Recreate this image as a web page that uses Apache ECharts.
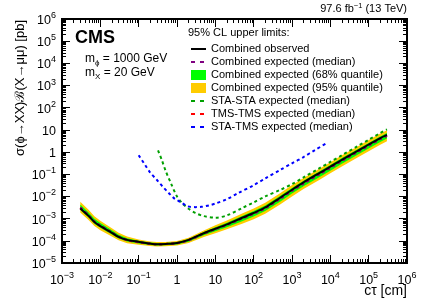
<!DOCTYPE html>
<html>
<head>
<meta charset="utf-8">
<script src="https://cdn.jsdelivr.net/npm/echarts@6/dist/echarts.min.js"></script>
<style>html,body{margin:0;padding:0;background:#fff;}#c{width:424px;height:304px;}</style>
</head>
<body>
<div id="c"></div>
<script>
// ---- data ----
const ctComb = [3e-3, 5e-3, 7e-3, 1e-2, 2e-2, 3e-2, 5e-2, 0.1, 0.2, 0.3, 0.5, 1, 2, 5, 10, 20, 50, 100, 200, 500, 1e3, 2e3, 5e3, 1e4, 2e4, 5e4, 1e5, 2e5, 3e5];
const observed = [2.9e-3, 1.3e-3, 7e-4, 4.6e-4, 2.3e-4, 1.5e-4, 1.1e-4, 9e-5, 7.5e-5, 7e-5, 7.2e-5, 8e-5, 1.1e-4, 2.2e-4, 3.5e-4, 5.5e-4, 1.1e-3, 1.8e-3, 3.2e-3, 9e-3, 2e-2, 4.3e-2, 1.1e-1, 2.2e-1, 4.5e-1, 1.1, 2.2, 4.3, 6];
const expMedian = [3.2e-3, 1.4e-3, 7.5e-4, 4.9e-4, 2.4e-4, 1.55e-4, 1.1e-4, 8.8e-5, 7.4e-5, 7e-5, 7.1e-5, 7.8e-5, 1.05e-4, 2.1e-4, 3.3e-4, 5.2e-4, 1.0e-3, 1.65e-3, 2.9e-3, 8e-3, 1.8e-2, 3.8e-2, 9.6e-2, 1.95e-1, 4e-1, 9.8e-1, 1.95, 3.8, 5.4];
const exp68Hi = [4.3e-3, 1.85e-3, 9.8e-4, 6.3e-4, 3.0e-4, 1.9e-4, 1.32e-4, 1.02e-4, 8.4e-5, 7.9e-5, 8.0e-5, 8.8e-5, 1.2e-4, 2.5e-4, 4.05e-4, 6.6e-4, 1.3e-3, 2.2e-3, 3.9e-3, 1.08e-2, 2.4e-2, 5.1e-2, 1.29e-1, 2.6e-1, 5.4e-1, 1.32, 2.6, 5.1, 7.3];
const exp68Lo = [2.5e-3, 1.1e-3, 5.9e-4, 3.9e-4, 1.95e-4, 1.27e-4, 9.2e-5, 7.6e-5, 6.5e-5, 6.2e-5, 6.3e-5, 6.9e-5, 9.1e-5, 1.77e-4, 2.7e-4, 4.1e-4, 7.7e-4, 1.25e-3, 2.2e-3, 6.0e-3, 1.35e-2, 2.85e-2, 7.2e-2, 1.46e-1, 3.0e-1, 7.3e-1, 1.46, 2.85, 4.05];
const exp95Hi = [5.8e-3, 2.45e-3, 1.28e-3, 8.1e-4, 3.7e-4, 2.3e-4, 1.55e-4, 1.15e-4, 9.3e-5, 8.8e-5, 8.9e-5, 9.8e-5, 1.37e-4, 2.95e-4, 5.0e-4, 8.3e-4, 1.7e-3, 2.9e-3, 5.2e-3, 1.45e-2, 3.25e-2, 6.8e-2, 1.73e-1, 3.5e-1, 7.2e-1, 1.76, 3.5, 6.8, 9.7];
const exp95Lo = [1.9e-3, 8.5e-4, 4.6e-4, 3.0e-4, 1.55e-4, 1.05e-4, 7.8e-5, 6.7e-5, 5.9e-5, 5.6e-5, 5.7e-5, 6.2e-5, 8.0e-5, 1.5e-4, 2.2e-4, 3.3e-4, 5.9e-4, 9.5e-4, 1.65e-3, 4.5e-3, 1.0e-2, 2.15e-2, 5.4e-2, 1.1e-1, 2.25e-1, 5.5e-1, 1.1, 2.15, 3.05];
const tmsTms = [3.1e-3, 1.35e-3, 7.2e-4, 4.7e-4, 2.3e-4, 1.5e-4, 1.07e-4, 8.6e-5, 7.3e-5, 7e-5, 7.2e-5, 8e-5, 1.08e-4, 2.15e-4, 3.4e-4, 5.4e-4, 1.05e-3, 1.7e-3, 3.0e-3, 8.3e-3, 1.85e-2, 3.9e-2, 9.9e-2, 2.0e-1, 4.1e-1, 1.0, 2.0, 3.9, 5.6];
const ctStaSta = [0.32, 0.4, 0.5, 0.7, 1, 1.4, 2, 3, 5, 10, 20, 50, 100, 200, 500, 1e3, 2e3, 5e3, 1e4, 2e4, 5e4, 1e5, 2e5, 3e5];
const staSta = [1.2, 0.45, 0.15, 0.038, 1.0e-2, 4.8e-3, 2.8e-3, 1.8e-3, 1.3e-3, 1.1e-3, 1.4e-3, 3.0e-3, 5.4e-3, 1.0e-2, 2.0e-2, 3.6e-2, 7.2e-2, 1.8e-1, 3.6e-1, 7.2e-1, 1.8, 3.6, 7.2, 10.5];
const ctStaTms = [0.1, 0.15, 0.2, 0.3, 0.43, 0.6, 0.86, 1.3, 1.9, 3, 4.3, 7, 10, 20, 40, 100, 200, 500, 1e3, 2e3, 4e3, 8.3e3];
const staTms = [0.72, 0.25, 0.12, 0.055, 0.027, 0.0148, 8e-3, 5.3e-3, 3.6e-3, 3.3e-3, 3.4e-3, 4.0e-3, 4.8e-3, 7.5e-3, 1.45e-2, 3.2e-2, 6.5e-2, 1.6e-1, 3.1e-1, 6.0e-1, 1.25, 2.6];
const xMajor = [1e-3, 1e-2, 1e-1, 1, 10, 1e2, 1e3, 1e4, 1e5, 1e6];
const yMajor = [1e-5, 1e-4, 1e-3, 1e-2, 1e-1, 1, 10, 1e2, 1e3, 1e4, 1e5, 1e6];
const minorMult = [2, 3, 4, 5, 6, 7, 8, 9];

function minorsOf(majors) {
  const out = [];
  for (let i = 0; i < majors.length - 1; i++) for (const m of minorMult) out.push(majors[i] * m);
  return out;
}
const xMinor = minorsOf(xMajor);
const yMinor = minorsOf(yMajor);

const FONT = '"Liberation Sans", Arial, Helvetica, sans-serif';
function powLabel(v) {
  const e = Math.round(Math.log10(v));
  if (e === 0) return '{b|1}';
  if (e === 1) return '{b|10}';
  return '{b|10}{s|' + (e < 0 ? '\u2212' : '') + Math.abs(e) + '}';
}
const richLab = {
  b: { fontSize: 12.5, fontFamily: FONT, color: '#000', lineHeight: 16, verticalAlign: 'bottom' },
  s: { fontSize: 9, fontFamily: FONT, color: '#000', lineHeight: 16, verticalAlign: 'top' }
};

function axisCommon(type, pos, ticks, len, labels) {
  const a = {
    type: 'log', logBase: 10, position: pos,
    min: type === 'x' ? 1e-3 : 1e-5, max: 1e6,
    axisLine: { show: true, lineStyle: { color: '#000', width: 2 } },
    axisTick: { show: true, inside: true, length: len, customValues: ticks, lineStyle: { color: '#000', width: 1 } },
    splitLine: { show: false },
    minorTick: { show: false },
    axisLabel: { show: false }
  };
  if (labels) {
    a.axisLabel = {
      show: true, customValues: ticks, formatter: powLabel, rich: richLab,
      margin: type === 'x' ? 8 : 6, showMinLabel: true, showMaxLabel: true, hideOverlap: false
    };
  }
  return a;
}

function bandSeries(name, lo, hi, color, z) {
  return {
    name: name, type: 'custom', coordinateSystem: 'cartesian2d', xAxisIndex: 0, yAxisIndex: 0,
    z: z, itemStyle: { color: color }, silent: true,
    data: ctComb.map((c, i) => [c, lo[i], hi[i]]),
    encode: { x: 0, y: [1, 2] },
    renderItem: function (params, api) {
      if (params.dataIndex !== 0) return null;
      const pts = [];
      for (let i = 0; i < ctComb.length; i++) pts.push(api.coord([ctComb[i], hi[i]]));
      for (let i = ctComb.length - 1; i >= 0; i--) pts.push(api.coord([ctComb[i], lo[i]]));
      return { type: 'polygon', shape: { points: pts }, style: { fill: color, stroke: null } };
    }
  };
}
function lineSeries(name, xs, ys, color, dashed, width, z) {
  return {
    name: name, type: 'line', xAxisIndex: 0, yAxisIndex: 0, z: z,
    data: xs.map((c, i) => [c, ys[i]]), showSymbol: false, symbol: 'none', smooth: 0.3,
    lineStyle: { color: color, width: width, type: dashed ? [3, 3] : 'solid' },
    itemStyle: { color: color }, silent: true
  };
}
const hideSym = { opacity: 0 };
const legDash = { type: [4, 5], width: 2 };

const chart = echarts.init(document.getElementById('c'), null, { renderer: 'canvas' });
chart.setOption({
  animation: false,
  backgroundColor: '#fff',
  grid: { left: 62, right: 17, top: 19, bottom: 41, containLabel: false, outerBoundsMode: 'none' },
  xAxis: [
    axisCommon('x', 'bottom', xMajor, 8, true),
    axisCommon('x', 'bottom', xMinor, 4, false),
    axisCommon('x', 'top', xMajor, 8, false),
    axisCommon('x', 'top', xMinor, 4, false)
  ],
  yAxis: [
    axisCommon('y', 'left', yMajor, 8, true),
    axisCommon('y', 'left', yMinor, 4, false),
    axisCommon('y', 'right', yMajor, 8, false),
    axisCommon('y', 'right', yMinor, 4, false)
  ],
  legend: {
    orient: 'vertical', left: 185, top: 38.5, itemWidth: 15, itemHeight: 10, itemGap: 2.0,
    selectedMode: false,
    textStyle: { fontSize: 11, fontFamily: FONT, color: '#000', lineHeight: 11 },
    data: [
      { name: 'Combined observed', itemStyle: hideSym },
      { name: 'Combined expected (median)', itemStyle: hideSym, lineStyle: legDash },
      { name: 'Combined expected (68% quantile)', icon: 'rect' },
      { name: 'Combined expected (95% quantile)', icon: 'rect' },
      { name: 'STA-STA expected (median)', itemStyle: hideSym, lineStyle: legDash },
      { name: 'TMS-TMS expected (median)', itemStyle: hideSym, lineStyle: legDash },
      { name: 'STA-TMS expected (median)', itemStyle: hideSym, lineStyle: legDash }
    ]
  },
  series: [
    bandSeries('Combined expected (95% quantile)', exp95Lo, exp95Hi, '#ffcc00', 1),
    bandSeries('Combined expected (68% quantile)', exp68Lo, exp68Hi, '#00ff00', 2),
    lineSeries('TMS-TMS expected (median)', ctComb, tmsTms, '#ff0000', true, 2, 3),
    lineSeries('Combined expected (median)', ctComb, expMedian, '#800080', true, 2, 4),
    lineSeries('STA-STA expected (median)', ctStaSta, staSta, '#00a000', true, 2, 5),
    lineSeries('STA-TMS expected (median)', ctStaTms, staTms, '#0000ff', true, 2, 5),
    lineSeries('Combined observed', ctComb, observed, '#000000', false, 2, 6)
  ],
  graphic: [
    { type: 'text', left: 75, top: 29, style: { text: 'CMS', font: 'bold 18px ' + FONT, fill: '#000' } },
    { type: 'text', x: 85, y: 59, style: { text: 'm{sub|\u03d5} = 1000 GeV', fontSize: 12, fontFamily: FONT, fill: '#000', verticalAlign: 'middle',
      rich: { sub: { fontSize: 8, fontFamily: FONT, verticalAlign: 'bottom', lineHeight: 16 } } } },
    { type: 'text', x: 85, y: 73, style: { text: 'm{sub|X} = 20 GeV', fontSize: 12, fontFamily: FONT, fill: '#000', verticalAlign: 'middle',
      rich: { sub: { fontSize: 8, fontFamily: FONT, verticalAlign: 'bottom', lineHeight: 16 } } } },
    { type: 'text', x: 188, y: 32.5, style: { text: '95% CL upper limits:', fontSize: 11, fontFamily: FONT, fill: '#000', verticalAlign: 'middle' } },
    { type: 'text', x: 407, y: 9, style: { text: '97.6 fb{sup|\u22121} (13 TeV)', fontSize: 11, fontFamily: FONT, fill: '#000', align: 'right', verticalAlign: 'middle',
      rich: { sup: { fontSize: 7.5, fontFamily: FONT, verticalAlign: 'top', lineHeight: 14 } } } },
    { type: 'text', x: 407, y: 291, style: { text: 'c\u03c4 [cm]', fontSize: 14, fontFamily: FONT, fill: '#000', align: 'right', verticalAlign: 'middle' } },
    { type: 'text', x: 20, y: 20, rotation: Math.PI / 2, style: { text: '\u03c3(\u03d5\u2192XX)\u212c(X\u2192\u03bc\u03bc) [pb]', fontSize: 13, fontFamily: FONT, fill: '#000', align: 'right', verticalAlign: 'middle' } }
  ]
});
</script>
</body>
</html>
